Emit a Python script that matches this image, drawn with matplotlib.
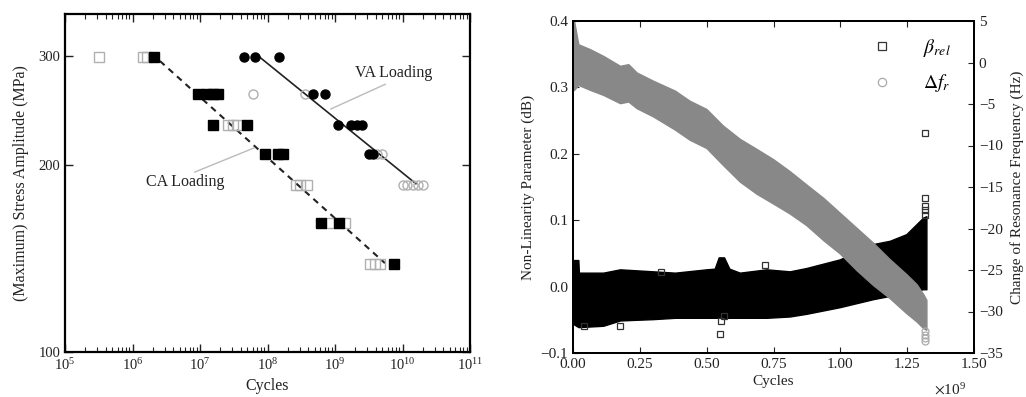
import matplotlib
matplotlib.use('Agg')
import matplotlib.pyplot as plt
from matplotlib.ticker import FuncFormatter, FixedLocator, NullLocator, LogLocator

plt.rcParams['font.family'] = ['Liberation Serif', 'DejaVu Serif']
plt.rcParams['mathtext.fontset'] = 'stix'

# ---------------- Left panel: S-N data ----------------
ca_fail_n = [2.1e6, 9.2e6, 1.26e7, 1.55e7, 1.82e7, 1.55e7, 5.0e7, 9.1e7, 1.44e8, 1.7e8, 6.2e8, 1.15e9, 7.4e9]
ca_fail_s = [298, 260, 260, 260, 260, 232, 232, 208.6, 208.6, 208.6, 161.6, 161.6, 138.6]
ca_open_n = [3.2e5, 1.43e6, 1.64e6, 2.6e7, 3.1e7, 3.5e7, 2.6e8, 3.0e8, 3.8e8, 8.5e8, 1.4e9, 3.3e9, 3.9e9, 4.7e9]
ca_open_s = [298, 298, 298, 232, 232, 232, 186, 186, 186, 161.6, 161.6, 138.6, 138.6, 138.6]
va_fail_n = [4.5e7, 6.5e7, 1.5e8, 4.8e8, 7.1e8, 1.12e9, 1.74e9, 2.1e9, 2.5e9, 3.2e9, 3.6e9]
va_fail_s = [298, 298, 298, 260, 260, 232, 232, 232, 232, 208.6, 208.6]
va_open_n = [6.2e7, 3.6e8, 4.2e9, 4.9e9, 1.0e10, 1.17e10, 1.42e10, 1.7e10, 2.04e10]
va_open_s = [260, 260, 208.6, 208.6, 186, 186, 186, 186, 186]
ca_fit_n = [2.55e6, 5.5e9]
ca_fit_s = [294, 139]
va_fit_n = [7.74e7, 1.58e10]
va_fit_s = [298, 186.6]

# ---------------- Right panel: monitoring data ----------------
beta_x = [0.0, 0.02e9, 0.022e9, 0.113e9, 0.176e9, 0.30e9, 0.382e9, 0.499e9, 0.53e9, 0.545e9,
          0.565e9, 0.585e9, 0.624e9, 0.724e9, 0.811e9, 0.873e9, 0.998e9, 1.122e9, 1.185e9,
          1.247e9, 1.31e9, 1.322e9]
beta_upper = [0.040, 0.040, 0.021, 0.021, 0.026, 0.023, 0.021, 0.026, 0.027, 0.044,
              0.044, 0.027, 0.021, 0.026, 0.023, 0.028, 0.041, 0.064, 0.069,
              0.079, 0.104, 0.106]
beta_lower = [-0.056, -0.061, -0.061, -0.059, -0.051, -0.049, -0.047, -0.047, -0.047, -0.047,
              -0.047, -0.047, -0.047, -0.047, -0.045, -0.041, -0.031, -0.019, -0.014,
              -0.009, -0.004, -0.004]
beta_out_x = [0.04e9, 0.176e9, 0.55e9, 0.555e9, 0.565e9, 0.33e9, 0.72e9, 1.315e9, 1.315e9, 1.315e9, 1.315e9, 1.315e9]
beta_out_y = [-0.060, -0.060, -0.072, -0.052, -0.045, 0.022, 0.033, 0.108, 0.115, 0.122, 0.133, 0.231]

df_x = [0.0, 0.004e9, 0.02e9, 0.064e9, 0.113e9, 0.176e9, 0.207e9, 0.238e9, 0.30e9, 0.382e9,
        0.436e9, 0.499e9, 0.561e9, 0.624e9, 0.686e9, 0.749e9, 0.811e9, 0.873e9, 0.936e9,
        0.998e9, 1.06e9, 1.122e9, 1.185e9, 1.247e9, 1.285e9, 1.31e9, 1.322e9]
df_upper = [5.0, 5.0, 2.2, 1.6, 0.8, -0.4, -0.2, -1.2, -2.2, -3.4,
            -4.6, -5.6, -7.6, -9.2, -10.4, -11.65, -13.1, -14.7, -16.3,
            -18.1, -19.9, -21.7, -23.7, -25.5, -26.7, -27.9, -28.6]
df_lower = [-3.3, -3.3, -2.7, -3.3, -3.9, -4.9, -4.7, -5.5, -6.5, -8.1,
            -9.3, -10.3, -12.35, -14.35, -15.8, -17.0, -18.2, -19.6, -21.4,
            -23.0, -25.0, -26.8, -28.4, -30.2, -31.2, -32.0, -32.2]
df_out_x = [1.315e9, 1.315e9, 1.315e9, 1.315e9]
df_out_y = [-32.3, -32.8, -33.2, -33.6]

x_ticks = [0, 0.25e9, 0.5e9, 0.75e9, 1.0e9, 1.25e9, 1.5e9]
beta_ticks = [-0.1, 0.0, 0.1, 0.2, 0.3, 0.4]
df_ticks = [-35, -30, -25, -20, -15, -10, -5, 0, 5]

fig = plt.figure(figsize=(10.26, 3.97), dpi=100)

# ---- left axes ----
ax = fig.add_axes([65/1026, 45/397, 405/1026, 338/397])
light = '#b0b0b0'
ax.plot(ca_open_n, ca_open_s, 's', ms=6.5, mfc='none', mec=light, mew=1.0, zorder=3)
ax.plot(va_open_n, va_open_s, 'o', ms=6.5, mfc='none', mec=light, mew=1.0, zorder=3)
ax.plot(ca_fit_n, ca_fit_s, color='#222222', lw=1.5, ls=(0, (3, 2.5)), zorder=2)
ax.plot(va_fit_n, va_fit_s, color='#222222', lw=1.2, zorder=2)
ax.plot(ca_fail_n, ca_fail_s, 's', ms=6.5, color='black', mec='black', zorder=4)
ax.plot(va_fail_n, va_fail_s, 'o', ms=6.5, color='black', mec='black', zorder=4)
ax.set_xscale('log')
ax.set_yscale('log')
ax.set_xlim(1e5, 1e11)
ax.set_ylim(100, 350)
ax.yaxis.set_major_locator(FixedLocator([100, 200, 300]))
ax.yaxis.set_minor_locator(NullLocator())
ax.yaxis.set_major_formatter(FuncFormatter(lambda v, p: f"{v:.0f}"))
ax.xaxis.set_major_locator(LogLocator(base=10, numticks=10))
ax.xaxis.set_minor_locator(LogLocator(base=10, subs=range(2, 10), numticks=10))
ax.tick_params(which='both', direction='in', top=True, right=True, labelsize=10.5, colors='#222222')
ax.tick_params(which='major', length=6, width=1)
ax.tick_params(which='minor', length=3.5, width=0.8)
for s in ax.spines.values():
    s.set_linewidth(1.6)
ax.set_xlabel('Cycles', fontsize=11.5, color='#222222', labelpad=4)
ax.set_ylabel('(Maximum) Stress Amplitude (MPa)', fontsize=11.5, color='#222222', labelpad=7)

ax.annotate('', xy=(7.9e8, 245), xytext=(6.1e9, 271),
            arrowprops=dict(arrowstyle='-', color='#bbbbbb', lw=1.0))
ax.text(7.5e9, 281, 'VA Loading', fontsize=11.5, ha='center', va='center', color='#222222')
ax.annotate('', xy=(7.0e7, 214), xytext=(7.6e6, 194),
            arrowprops=dict(arrowstyle='-', color='#bbbbbb', lw=1.0))
ax.text(6.0e6, 187.5, 'CA Loading', fontsize=11.5, ha='center', va='center', color='#222222')

# ---- right axes ----
ax2 = fig.add_axes([573/1026, 44/397, 401/1026, 332/397])
ax3 = ax2.twinx()
ax2.fill_between(beta_x, beta_lower, beta_upper, color='black', lw=1.0, edgecolor='black', zorder=2)
hb, = ax2.plot(beta_out_x, beta_out_y, 's', ms=5, mfc='none', mec='#333333', mew=0.9, zorder=3)
ax3.fill_between(df_x, df_lower, df_upper, color='#888888', lw=1.0, edgecolor='#888888', zorder=2)
hf, = ax3.plot(df_out_x, df_out_y, 'o', ms=5, mfc='none', mec='#aaaaaa', mew=0.9, zorder=3)

ax2.set_xlim(0, 1.5e9)
ax2.set_ylim(-0.1, 0.4)
ax3.set_ylim(-35, 5)
ax2.xaxis.set_major_locator(FixedLocator(x_ticks))
ax2.xaxis.set_major_formatter(FuncFormatter(lambda v, p: f"{v/1e9:.2f}"))
ax2.yaxis.set_major_locator(FixedLocator(beta_ticks))
ax2.yaxis.set_major_formatter(FuncFormatter(lambda v, p: f"{v:.1f}".replace('-', '\u2212')))
ax3.yaxis.set_major_locator(FixedLocator(df_ticks))
ax3.yaxis.set_major_formatter(FuncFormatter(lambda v, p: f"{v:.0f}".replace('-', '\u2212')))
ax2.tick_params(direction='in', top=True, right=False, length=4, width=0.8, labelsize=11, colors='#222222')
ax3.tick_params(direction='in', length=4, width=0.8, labelsize=11, colors='#222222')
for s in list(ax2.spines.values()) + list(ax3.spines.values()):
    s.set_linewidth(1.4)
ax2.set_xlabel('Cycles', fontsize=11, color='#222222', labelpad=3)
ax2.set_ylabel('Non-Linearity Parameter (dB)', fontsize=11, color='#222222', labelpad=4)
ax3.set_ylabel('Change of Resonance Frequency (Hz)', fontsize=11, color='#222222', labelpad=5)
fig.text(950/1026, 1 - 390/397, r'$\times\mathdefault{10^{9}}$', fontsize=11, ha='center', va='center', color='#222222')

leg = ax3.legend([hb, hf], [r'$\beta_{rel}$', r'$\Delta f_r$'], loc='upper right',
                 bbox_to_anchor=(0.985, 1.005), frameon=False, fontsize=14,
                 handletextpad=1.6, labelspacing=0.7, handlelength=1.0, markerscale=1.2)

fig.savefig('out.png', dpi=100)
